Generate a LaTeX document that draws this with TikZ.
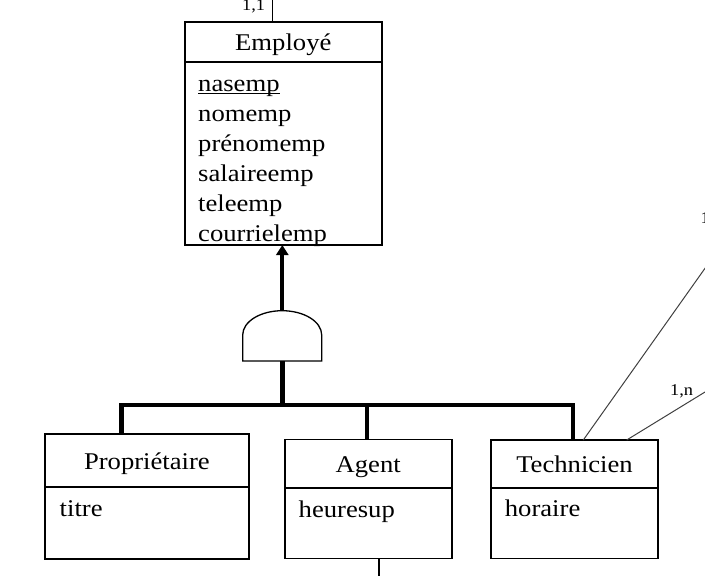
\documentclass[tikz,border=0pt]{standalone}
\usepackage{fontspec}
\setmainfont[FakeStretch=1.11]{Liberation Serif}
\usetikzlibrary{positioning,arrows.meta}

\newcommand\classfont{\fontsize{24}{30}\selectfont}
\newcommand\cardfont{\fontsize{16.5}{20}\selectfont}

\begin{document}
\begin{tikzpicture}[x=1pt, y=-1pt,
		clshead/.style={draw, line width=1.8pt, outer sep=0pt, inner sep=0pt, font=\classfont, text height=17pt, text depth=0pt},
		clsbody/.style={draw, line width=1.8pt, outer sep=0pt, inner sep=0pt},
		attr/.style={anchor=base west, inner sep=0pt, font=\classfont},
		inh/.style={line width=4.6pt},
		link/.style={line width=1.2pt},
		assoc/.style={line width=1pt, black!75},
		card/.style={anchor=base west, inner sep=0pt, font=\cardfont}]
		
		\useasboundingbox (0,0) rectangle (705,576);
		\clip (0,0) rectangle (705,576);
		
		% Superclass
		\node[clshead, minimum width=196.7, minimum height=40] (employe) at (283.3,41.7) {Employé};
		\node[clsbody, minimum width=196.7, minimum height=183.3, below=0 of employe] (employeatt) {};
		\node[attr] (nasemp) at (198,91.7) {nasemp};
		\foreach \attname [count=\k] in {nomemp,prénomemp,salaireemp,teleemp,courrielemp}
			\node[attr] (empattr\k) at (198,{91.7+30*\k}) {\attname};
		\draw[line width=1pt] ([yshift=-1.8pt]nasemp.base west) -- ([yshift=-1.8pt]nasemp.base east);
		
		% Subclasses
		\node[clshead, minimum width=204.3, minimum height=53] (prop) at (146.9,460.5) {Propriétaire};
		\node[clsbody, minimum width=204.3, minimum height=72, below=0 of prop] (propatt) {};
		\node[clshead, minimum width=167.1, minimum height=48.5] (agent) at (368.2,463.7) {Agent};
		\node[clsbody, minimum width=167.1, minimum height=70.5, below=0 of agent] (agentatt) {};
		\node[clshead, minimum width=167.1, minimum height=48] (tech) at (574.5,464) {Technicien};
		\node[clsbody, minimum width=167.1, minimum height=70.5, below=0 of tech] (techatt) {};
		\node[attr] (titre) at (59.5,516.7) {titre};
		\node[attr] (heuresup) at (298.5,517.7) {heuresup};
		\node[attr] (horaire) at (504.7,516.7) {horaire};
		
		% Generalization symbol
		\draw[line width=1.3pt, fill=white] (242.7,361) -- (242.7,335) arc[start angle=180, end angle=360, x radius=39.5, y radius=24.3] -- (321.7,361) -- cycle;
		\coordinate (gentop) at (282.3,310.7);
		\coordinate (genbase) at (282.3,361);
		\coordinate (fork) at (282.3,405);
		
		% Connections
		\draw[line width=4pt, -{Triangle[length=10pt, width=12pt]}] (gentop) -- (gentop |- employeatt.south);
		\draw[inh] (genbase) -- (fork);
		\draw[inh] ([xshift=-25.2pt]prop.north) |- (fork) -| ([xshift=-1.5pt]tech.north);
		\draw[inh] ([xshift=-1.2pt]agent.north) -- ([xshift=-1.2pt]agent.north |- fork);
		
		% Associations
		\coordinate (empout) at (272.3,-5);
		\coordinate (agentout) at (379,590);
		\coordinate (techout1) at (715,254.2);
		\coordinate (techout2) at (715,385.9);
		\draw[link] (employe.north -| empout) -- (empout);
		\draw[link] (agentatt.south -| agentout) -- (agentout);
		\draw[assoc] ([xshift=8.8pt]tech.north) -- (techout1);
		\draw[assoc] ([xshift=52.2pt]tech.north) -- (techout2);
		
		% Cardinalities
		\node[card] (cardemp) at (242,10) {1,1};
		\node[card] (cardtech1) at (700.5,223) {1};
		\node[card] (cardtech2) at (670,395) {1,n};
		
	\end{tikzpicture}
\end{document}
